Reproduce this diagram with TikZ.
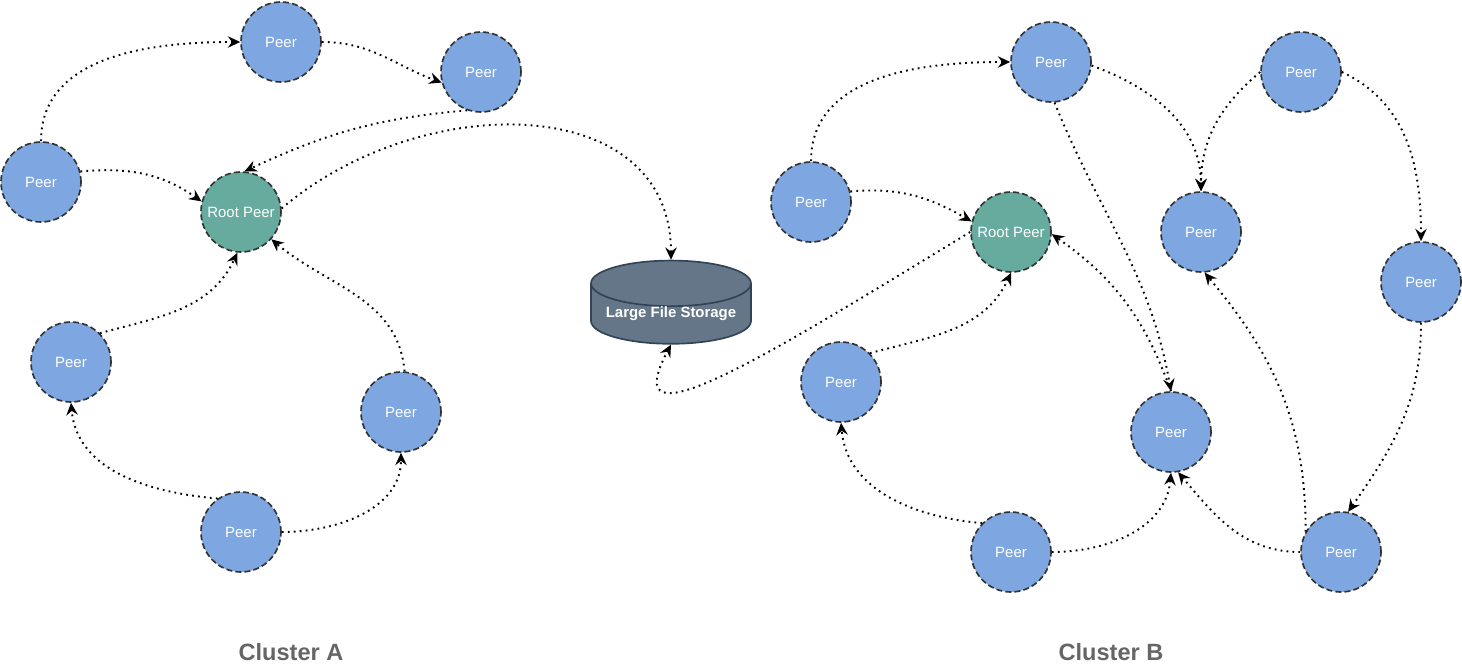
\documentclass[tikz,border=0pt]{standalone}
\usepackage{fontspec}
\setmainfont{Liberation Sans}
\usepackage{tikz}
\usetikzlibrary{arrows.meta,shapes.geometric}
\definecolor{peerblue}{HTML}{7EA6E0}
\definecolor{rootgreen}{HTML}{67AB9F}
\definecolor{storefill}{HTML}{647687}
\definecolor{storeline}{HTML}{314354}
\definecolor{ringgray}{HTML}{333333}
\definecolor{labelgray}{HTML}{666666}

\begin{document}
\begin{tikzpicture}[
        x=0.02cm, y=-0.02cm,
        % Node styles
        peer/.style={circle, draw=ringgray, fill=peerblue, line width=0.95pt, dash pattern=on 3.4pt off 1.8pt, minimum size=1.6cm, inner sep=0pt, text=white, font=\fontsize{8.5}{10}\selectfont},
        root/.style={peer, fill=rootgreen},
        storage/.style={cylinder, shape border rotate=90, aspect=0.35, draw=storeline, fill=storefill, line width=0.95pt, minimum width=3.2cm, minimum height=1.6cm, inner sep=0pt, text=white, font=\fontsize{8.5}{10}\selectfont\bfseries},
        cluster/.style={text=labelgray, font=\fontsize{13.4}{16}\selectfont\bfseries},
        % Connector style
        link/.style={-{Stealth[length=7pt,width=6.5pt,inset=2.4pt]}, black, line width=1.1pt, dash pattern=on 1pt off 2.4pt}
    ]
    \useasboundingbox (0,0) rectangle (1462,671);

    % Cluster A nodes
    \node[peer] (a1) at (281,42) {Peer};
    \node[peer] (a2) at (481,72) {Peer};
    \node[peer] (a3) at (41,182) {Peer};
    \node[root] (ra) at (241,212) {Root Peer};
    \node[peer] (a4) at (71,362) {Peer};
    \node[peer] (a5) at (401,412) {Peer};
    \node[peer] (a6) at (241,532) {Peer};

    % Shared storage
    \node[storage] (lfs) at (671,314) {Large File Storage};

    % Cluster B nodes
    \node[peer] (b1) at (1051,62) {Peer};
    \node[peer] (b2) at (1301,72) {Peer};
    \node[peer] (b3) at (811,202) {Peer};
    \node[root] (rb) at (1011,232) {Root Peer};
    \node[peer] (b4) at (1201,232) {Peer};
    \node[peer] (b5) at (1421,282) {Peer};
    \node[peer] (b6) at (841,382) {Peer};
    \node[peer] (b7) at (1171,432) {Peer};
    \node[peer] (b8) at (1011,552) {Peer};
    \node[peer] (b9) at (1341,552) {Peer};

    % Cluster labels
    \node[cluster] (la) at (291,652) {Cluster A};
    \node[cluster] (lb) at (1111,652) {Cluster B};

    % Cluster A links
    \draw[link] (a3.north) to[out=90,in=180] (a1.west);
    \draw[link] (a1.east) to[out=0,in=160] (a2.195);
    \draw[link] (a2.250) to[out=185,in=25] (ra.85);
    \draw[link] (a3.15) to[out=5,in=145] (ra.165);
    \draw[link] (a4.45) to[out=15,in=-115] (ra.265);
    \draw[link] (a5.85) to[out=95,in=-40] (ra.-42);
    \draw[link] (a6.125) to[out=175,in=-85] (a4.south);
    \draw[link] (a6.east) to[out=0,in=-90] (a5.south);

    % Links to the storage
    \draw[link] (ra.5) .. controls (420,90) and (671,90) .. (lfs.north);
    \draw[link] (rb.west) .. controls (760,360) and (615,450) .. (lfs.south);

    % Cluster B links
    \draw[link] (b3.north) to[out=90,in=180] (b1.west);
    \draw[link] (b3.15) to[out=5,in=150] (rb.165);
    \draw[link] (b1.-5) to[out=-20,in=90] (b4.north);
    \draw[link] (b2.west) to[out=-140,in=90] (b4.north);
    \draw[link] (b2.east) to[out=-25,in=90] (b5.north);
    \draw[link] (b1.-85) to[out=-68,in=100] (b7.north);
    \draw[link] (b7.north) to[out=110,in=-35] (rb.-3);
    \draw[link] (b6.45) to[out=15,in=-115] (rb.south);
    \draw[link] (b8.135) to[out=175,in=-85] (b6.south);
    \draw[link] (b8.east) to[out=0,in=-95] (b7.south);
    \draw[link] (b9.west) to[out=180,in=-50] (b7.-80);
    \draw[link] (b9.150) to[out=90,in=-50] (b4.-85);
    \draw[link] (b5.south) to[out=-90,in=55] (b9.80);

    \end{tikzpicture}
\end{document}
